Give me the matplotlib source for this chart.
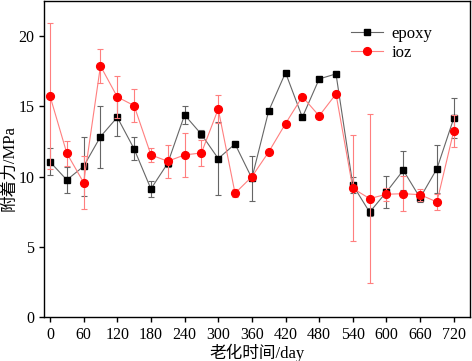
import matplotlib
matplotlib.use("Agg")
import matplotlib.pyplot as plt

days = [0, 30, 60, 90, 120, 150, 180, 210, 240, 270, 300, 330, 360,
        390, 420, 450, 480, 510, 540, 570, 600, 630, 660, 690, 720]
epoxy = [11.05, 9.76, 10.73, 12.84, 14.22, 11.97, 9.12, 10.95, 14.39, 13.01,
         11.28, 12.32, 9.88, 14.67, 17.4, 14.22, 16.95, 17.31, 9.4, 7.46,
         8.9, 10.45, 8.48, 10.56, 14.15]
epoxy_err = [0.95, 0.95, 2.1, 2.2, 1.35, 0.82, 0.58, 0.3, 0.63, 0.3,
             2.6, 0.0, 1.6, 0.0, 0.0, 0.0, 0.0, 0.0, 0.6, 0.3,
             1.15, 1.4, 0.3, 1.7, 1.43]
ioz = [15.74, 11.66, 9.57, 17.88, 15.67, 15.05, 11.54, 11.09, 11.54, 11.68,
       14.81, 8.81, 9.99, 11.75, 13.77, 15.69, 14.32, 15.88, 9.16, 8.43,
       8.74, 8.78, 8.71, 8.19, 13.25]
ioz_err = [5.2, 0.9, 1.9, 1.2, 1.5, 1.2, 0.52, 1.18, 1.57, 0.9,
           1.0, 0.3, 0.2, 0.0, 0.0, 0.0, 0.0, 0.0, 3.77, 6.03,
           0.45, 1.25, 0.43, 0.6, 1.15]
xticks = list(range(0, 721, 60))
yticks = [0, 5, 10, 15, 20]

plt.rcParams['font.family'] = ['Liberation Serif', 'Noto Sans CJK SC']

fig = plt.figure(figsize=(4.72, 3.61), dpi=100)
ax = fig.add_axes([0.0932, 0.1219, 0.9026, 0.8753])

ax.errorbar(days, epoxy, yerr=epoxy_err, color='#666666', lw=0.8,
            elinewidth=0.8, capsize=2.5, capthick=0.8, marker='s', ms=5,
            mfc='black', mec='black', label='epoxy', zorder=3)
ax.errorbar(days, ioz, yerr=ioz_err, color='#ff7f7f', lw=0.8,
            elinewidth=0.8, capsize=2.5, capthick=0.8, marker='o', ms=5.6,
            mfc='#ff0000', mec='#ff0000', label='ioz', zorder=4)

ax.set_xlim(-10.7, 749)
ax.set_ylim(0, 22.5)
ax.set_xticks(xticks)
ax.set_yticks(yticks)
ax.tick_params(direction='out', length=3.5, width=1, labelsize=11.5)
for s in ax.spines.values():
    s.set_linewidth(1)

ax.set_xlabel('老化时间/day', fontsize=12)
ax.xaxis.set_label_coords(0.5, -0.083)
ax.set_ylabel('附着力/MPa', fontsize=12)
ax.yaxis.set_label_coords(-0.062, 0.47)

h, l = ax.get_legend_handles_labels()
h = [x[0] for x in h]
ax.legend(h, l, loc='upper left', bbox_to_anchor=(0.7207, 0.92), frameon=False,
          fontsize=12, handlelength=1.9, handletextpad=0.55, labelspacing=0.15,
          borderpad=0, borderaxespad=0)

fig.savefig('out.png', dpi=100)
